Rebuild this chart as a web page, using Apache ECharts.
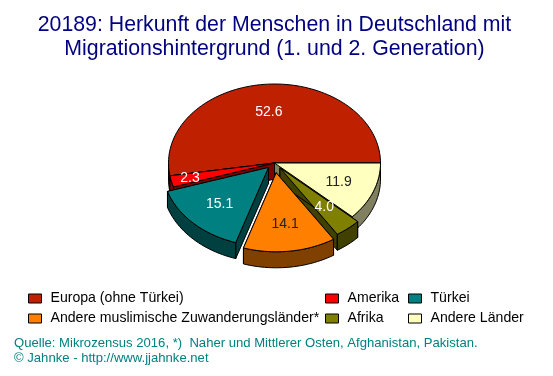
<!DOCTYPE html>
<html>
<head>
<meta charset="utf-8">
<style>html,body{margin:0;padding:0;background:#fff}#main{width:553px;height:376px}</style>
<script src="https://cdn.jsdelivr.net/npm/echarts@6/dist/echarts.min.js"></script>
</head>
<body>
<div id="main"></div>
<script>
var categories = ['Europa (ohne Türkei)', 'Amerika', 'Türkei', 'Andere muslimische Zuwanderungsländer*', 'Afrika', 'Andere Länder'];
var values = [52.6, 2.3, 15.1, 14.1, 4.0, 11.9];
var topColors = ['#BF2000', '#FF0000', '#008080', '#FF8000', '#808000', '#FFFFBF'];
var sideColors = ['#701000', '#800000', '#004040', '#804000', '#404000', '#808060'];
var labelColors = ['#fff', '#fff', '#fff', '#222', '#fff', '#222'];
var explode = [0, 0, 0.08, 0.125, 0.08, 0];
var labelFrac = [0.65, 0.82, 0.65, 0.65, 0.65, 0.65];
// back to front, the pie is painted slice over slice
var drawOrder = [0, 1, 5, 4, 2, 3];

var cx = 274.5, cy = 163, rx = 106, ry = 79, depth = 16;

function pt(deg, frac, ox, oy) {
	var a = deg * Math.PI / 180;
	return [cx + ox + rx * frac * Math.cos(a), cy + oy - ry * frac * Math.sin(a)];
}
function arc(from, to, ox, oy) {
	var pts = [];
	var n = Math.max(1, Math.ceil((to - from) / 2));
	for (var i = 0; i <= n; i++) pts.push(pt(from + (to - from) * i / n, 1, ox, oy));
	return pts;
}
function poly(points, fill) {
	return {type: 'polygon', shape: {points: points}, style: {fill: fill, stroke: '#000', lineWidth: 1}};
}
function cutFace(deg, ox, oy, fill) {
	var a = pt(deg, 0, ox, oy), b = pt(deg, 1, ox, oy);
	return poly([a, b, [b[0], b[1] + depth], [a[0], a[1] + depth]], fill);
}

var total = values.reduce(function (s, v) { return s + v; }, 0);
var starts = [], sum = 0;
values.forEach(function (v) { starts.push(sum / total * 360); sum += v; });

function sliceRenderer(i) {
	return function () {
		var a0 = starts[i], a1 = a0 + values[i] / total * 360, mid = (a0 + a1) / 2;
		var m = mid * Math.PI / 180;
		var ox = explode[i] * rx * Math.cos(m), oy = -explode[i] * ry * Math.sin(m);
		var kids = [cutFace(a0, ox, oy, sideColors[i]), cutFace(a1, ox, oy, sideColors[i])];
		// outer wall only where the rim faces the viewer
		var w0 = Math.max(a0, 180);
		if (a1 > w0) {
			var rim = arc(w0, a1, ox, oy);
			var low = rim.map(function (p) { return [p[0], p[1] + depth]; }).reverse();
			kids.push(poly(rim.concat(low), sideColors[i]));
		}
		kids.push(poly([pt(a0, 0, ox, oy)].concat(arc(a0, a1, ox, oy)), topColors[i]));
		var lp = pt(mid, labelFrac[i], ox, oy);
		kids.push({
			type: 'text', z2: 10,
			style: {
				x: lp[0], y: lp[1], text: values[i].toFixed(1), fill: labelColors[i],
				font: '14px "Liberation Sans", Arial, sans-serif', align: 'center', verticalAlign: 'middle'
			}
		});
		return {type: 'group', children: kids};
	};
}

var series = categories.map(function (name, i) {
	return {
		type: 'custom', name: name, coordinateSystem: 'none', silent: true,
		z: 2 + drawOrder.indexOf(i),
		itemStyle: {color: topColors[i]},
		data: [values[i]],
		renderItem: sliceRenderer(i)
	};
});

function legendCol(left, idx) {
	return {
		left: left, top: 291, orient: 'vertical', padding: 0, itemGap: 5,
		itemWidth: 13, itemHeight: 9, selectedMode: false, icon: 'rect',
		itemStyle: {borderColor: '#000', borderWidth: 1},
		textStyle: {color: '#000', fontSize: 14.1, lineHeight: 15, fontFamily: '"Liberation Sans", Arial, sans-serif', padding: [0, 0, 0, 4]},
		data: idx.map(function (k) { return categories[k]; })
	};
}

var chart = echarts.init(document.getElementById('main'), null, {renderer: 'canvas'});
chart.setOption({
	animation: false,
	backgroundColor: '#fff',
	title: [{
		text: '20189: Herkunft der Menschen in Deutschland mit\nMigrationshintergrund (1. und 2. Generation)',
		left: 274.5, top: 13, textAlign: 'center', padding: 0,
		textStyle: {color: '#000080', fontSize: 21.3, fontWeight: 'normal', lineHeight: 24, fontFamily: '"Liberation Sans", Arial, sans-serif'}
	}, {
		text: 'Quelle: Mikrozensus 2016, *)  Naher und Mittlerer Osten, Afghanistan, Pakistan.\n© Jahnke - http://www.jjahnke.net',
		left: 14, top: 336, padding: 0,
		textStyle: {color: '#008080', fontSize: 13.1, fontWeight: 'normal', lineHeight: 15, fontFamily: '"Liberation Sans", Arial, sans-serif'}
	}],
	legend: [legendCol(28, [0, 3]), legendCol(325, [1, 4]), legendCol(408, [2, 5])],
	series: series
});
</script>
</body>
</html>
